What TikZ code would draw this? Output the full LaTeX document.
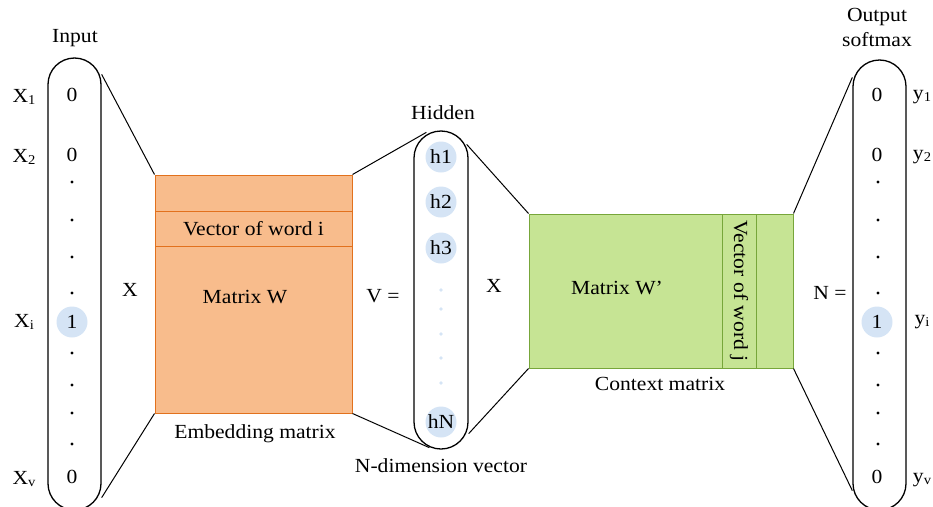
\documentclass[tikz,border=0pt]{standalone}
\usepackage{fontspec}
\setmainfont{Liberation Serif}[FakeStretch=1.08]
\definecolor{orangefill}{HTML}{F8BC8C}
\definecolor{orangeline}{HTML}{E2711D}
\definecolor{greenfill}{HTML}{C6E494}
\definecolor{greenline}{HTML}{77A63A}
\definecolor{bubblefill}{HTML}{D5E4F5}
\newcommand{\lowidx}[1]{\raisebox{-2.5pt}{\fontsize{13.5}{14}\selectfont #1}}
\begin{document}
\begin{tikzpicture}[x=1pt,y=-1pt,
  txt/.style={font=\fontsize{20}{23}\selectfont, inner sep=0pt},
  pill/.style={draw, line width=1.3pt, inner sep=0pt},
  orangebox/.style={draw=orangeline, fill=orangefill, line width=1pt, inner sep=0pt},
  greenbox/.style={draw=greenline, fill=greenfill, line width=1pt, inner sep=0pt},
  bubble/.style={circle, fill=bubblefill, minimum size=31pt, inner sep=0pt, font=\fontsize{20}{23}\selectfont},
  link/.style={line width=1pt},
  dot/.style={circle, fill=black, inner sep=0pt, minimum size=3.4pt},
  bluedot/.style={circle, fill=bubblefill, inner sep=0pt, minimum size=3.6pt}]
\useasboundingbox (0,0) rectangle (933,506);
\clip (0,0) rectangle (933,506);

% ---------- input vector ----------
\node[txt] (inlabel) at (75,38) {Input};
\node[pill, rounded corners=26.5pt, minimum width=53pt, minimum height=452pt] (inp) at (74.5,284) {};
\node[txt] (x1) at (24,97) {X\lowidx{1}};
\node[txt] (x2) at (24,157) {X\lowidx{2}};
\node[txt] (xi) at (24,322) {X\lowidx{i}};
\node[txt] (xv) at (24,479) {X\lowidx{v}};
\node[txt] (in1) at (72,95) {0};
\node[txt] (in2) at (72,155) {0};
\node[bubble] (ini) at (72,322) {1};
\node[txt] (inv) at (72,477) {0};
\foreach \yy [count=\k] in {182,220,257,293,353,385,413,444}
  \node[dot] (indot\k) at (72,\yy) {};

\node[txt] (times1) at (130,290) {X};

% ---------- embedding matrix ----------
\node[orangebox, minimum width=197pt, minimum height=238pt] (emb) at (253.5,294) {};
\node[orangebox, minimum width=197pt, minimum height=35pt, txt] (vecw) at (253.5,228.5) {Vector of word i};
\node[txt] (wlabel) at (245,297) {Matrix W};
\node[txt] (emblabel) at (255,434) {Embedding matrix};

\draw[link] ([yshift=-17pt]inp.north east) -- (emb.north west);
\draw[link] ([yshift=13pt]inp.south east) -- (emb.south west);

% ---------- hidden vector ----------
\node[txt] (hidlabel) at (443,113) {Hidden};
\node[pill, rounded corners=27pt, minimum width=54pt, minimum height=318pt] (hid) at (441,290) {};
\node[bubble] (h1) at (441,157) {h1};
\node[bubble] (h2) at (441,202) {h2};
\node[bubble] (h3) at (441,248) {h3};
\node[bubble] (hn) at (441,422) {hN};
\foreach \yy [count=\k] in {290,309,334,358,383}
  \node[bluedot] (hdot\k) at (441,\yy) {};
\node[txt] (veq) at (383,296) {V =};
\node[txt] (times2) at (494,286) {X};
\node[txt] (ndim) at (441,466) {N-dimension vector};

\draw[link] (emb.north east) -- ([xshift=13pt,yshift=-2pt]hid.north west);
\draw[link] (emb.south east) -- ([xshift=16pt,yshift=2pt]hid.south west);

% ---------- context matrix ----------
\node[greenbox, minimum width=264pt, minimum height=154pt] (ctx) at (661,291) {};
\node[greenbox, minimum width=34pt, minimum height=154pt] (vecj) at (739,291) {};
\node[txt, rotate=-90] (vecjlabel) at (739,291) {Vector of word j};
\node[txt] (w2label) at (617,288) {Matrix W’};
\node[txt] (ctxlabel) at (660,384) {Context matrix};

\draw[link] ([xshift=-2pt,yshift=-14pt]hid.north east) -- (ctx.north west);
\draw[link] ([yshift=16pt]hid.south east) -- (ctx.south west);

% ---------- output vector ----------
\node[txt] (outlabel1) at (877,17) {Output};
\node[txt] (outlabel2) at (877,40) {softmax};
\node[pill, rounded corners=26.5pt, minimum width=53pt, minimum height=450pt] (outp) at (879.5,285) {};
\node[txt] (out1) at (877,95) {0};
\node[txt] (out2) at (877,155) {0};
\node[bubble] (outi) at (877,322) {1};
\node[txt] (outv) at (877,477) {0};
\foreach \yy [count=\k] in {182,220,257,293,353,385,413,444}
  \node[dot] (outdot\k) at (878,\yy) {};
\node[txt] (y1) at (922,97) {y\lowidx{1}};
\node[txt] (y2) at (922,157) {y\lowidx{2}};
\node[txt] (yi) at (922,322) {y\lowidx{i}};
\node[txt] (yv) at (922,480) {y\lowidx{v}};
\node[txt] (neq) at (830,293) {N =};

\draw[link] (ctx.north east) -- ([yshift=-18pt]outp.north west);
\draw[link] (ctx.south east) -- ([yshift=20pt]outp.south west);
\end{tikzpicture}
\end{document}
